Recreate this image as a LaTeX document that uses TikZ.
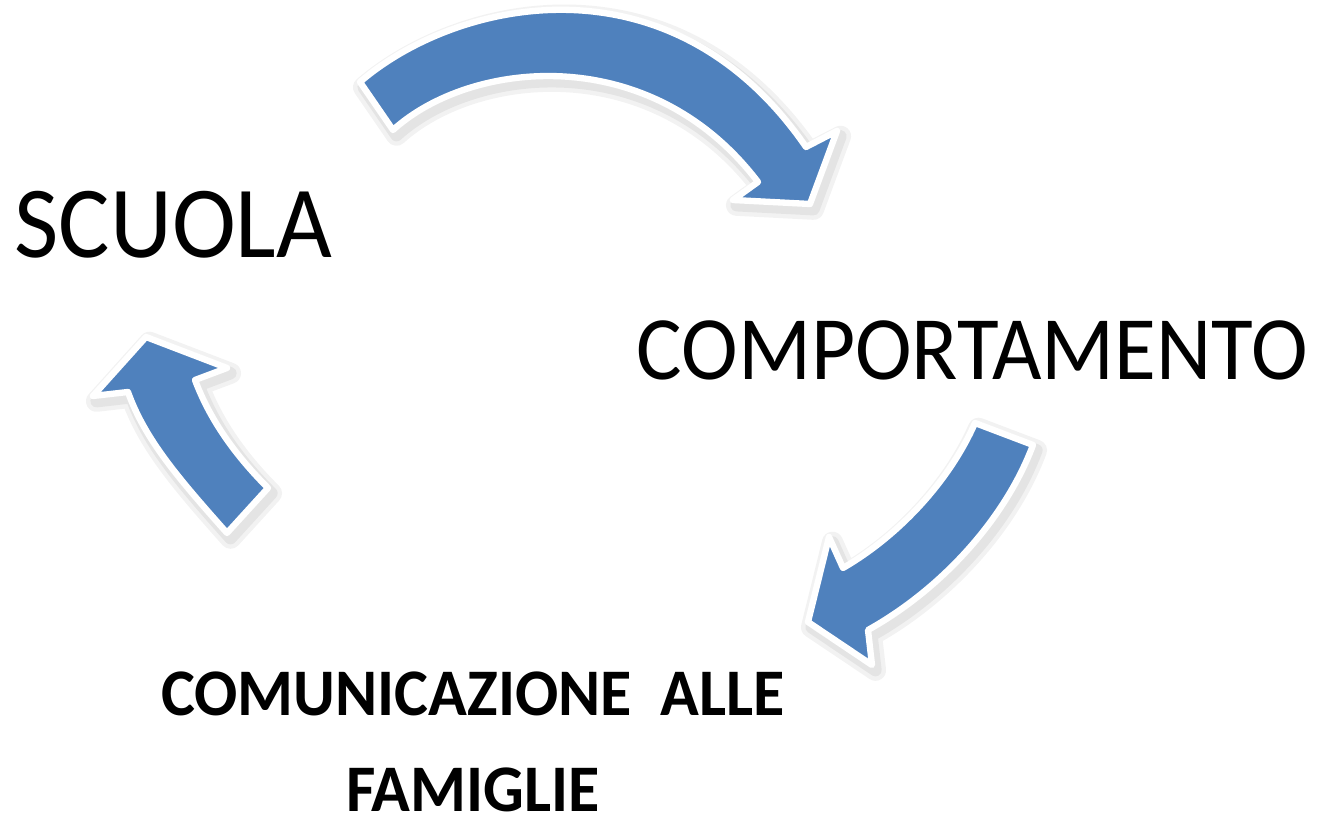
\documentclass[tikz,border=0pt]{standalone}
\usepackage{fontspec}
\setmainfont{Carlito}
\usepackage{tikz}
\definecolor{arrowblue}{HTML}{4F81BD}

\begin{document}
\begin{tikzpicture}[x=0.01cm,y=-0.01cm,
  bentarrow/.style={fill=arrowblue, draw=white, line width=1.8pt, line join=round,
    preaction={draw=black, opacity=0.05, line width=6pt, line join=round,
      transform canvas={xshift=1pt,yshift=-1.5pt}},
    preaction={draw=black, opacity=0.06, line width=3.5pt, line join=round,
      transform canvas={xshift=1pt,yshift=-1.5pt}}},
  bigword/.style={anchor=base west, inner sep=0pt, yscale=1.06, transform shape},
  boldword/.style={anchor=base, inner sep=0pt, align=center, text depth=0pt, yscale=1.04, transform shape,
    font=\bfseries\fontsize{18.2}{26.5}\selectfont}]
\useasboundingbox (0,0) rectangle (1320,819);
\node[bigword, font=\fontsize{27.4}{30}\selectfont] (scuola) at (14,258) {SCUOLA};
\node[bigword, font=\fontsize{24.3}{30}\selectfont] (comportamento) at (636,380) {COMPORTAMENTO};
\node[boldword] (comunicazione) at (473,812) {COMUNICAZIONE~~ALLE\\FAMIGLIE};
% top arrow
\draw[bentarrow] (360,82) .. controls (455,0) and (670,-50) .. (806,147) -- (837,131) -- (810,204)
  -- (733,200) -- (758,182) .. controls (650,40) and (470,60) .. (393,130) -- cycle;
% right arrow
\draw[bentarrow] (975,423) -- (1033,445) .. controls (1005,520) and (940,590) .. (868,630) -- (872,665)
  -- (808,622) -- (829,537) -- (843,568) .. controls (900,535) and (950,480) .. (975,423) -- cycle;
% left arrow
\draw[bentarrow] (268,488) -- (227,533) .. controls (180,480) and (145,440) .. (128,392) -- (93,396)
  -- (146,337) -- (227,368) -- (195,380) .. controls (210,420) and (235,455) .. (268,488) -- cycle;
\end{tikzpicture}
\end{document}
